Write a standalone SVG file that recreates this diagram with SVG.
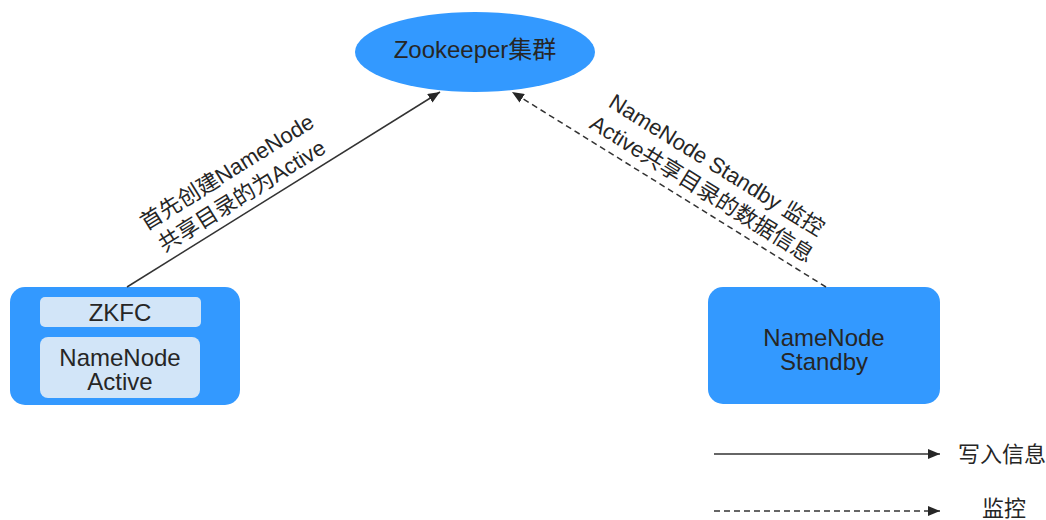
<svg xmlns="http://www.w3.org/2000/svg" width="1046" height="520" viewBox="0 0 1046 520">
<style>
.t{font-family:"Liberation Sans","Noto Sans CJK SC",sans-serif;fill:#262626}
.n{font-size:24px;text-anchor:middle}
.e{font-size:22px;text-anchor:middle}
.c{stroke:#333;stroke-width:1.5;fill:none}
.d{stroke-dasharray:6 4}
</style>
<defs>
<marker id="ah" viewBox="0 0 12 10" refX="12" refY="5" markerWidth="12" markerHeight="10" markerUnits="userSpaceOnUse" orient="auto">
<path d="M0,0 L12,5 L0,10 Z" fill="#262626"/>
</marker>
</defs>
<rect width="1046" height="520" fill="#fff"/>
<g id="zookeeper">
<ellipse cx="475" cy="52" rx="120" ry="40" fill="#3399ff"/>
<text class="t n" x="475" y="58">Zookeeper集群</text>
</g>
<g id="active">
<rect x="10" y="287" width="230" height="118" rx="15" fill="#3399ff"/>
<rect x="40" y="297" width="161" height="30" rx="5" fill="#d2e5f8"/>
<rect x="40" y="337" width="160" height="61" rx="8" fill="#d2e5f8"/>
<text class="t n" x="120" y="321">ZKFC</text>
<text class="t n" x="120" y="366">NameNode</text>
<text class="t n" x="120" y="390">Active</text>
</g>
<g id="standby">
<rect x="708" y="287" width="232" height="117" rx="15" fill="#3399ff"/>
<text class="t n" x="824" y="346">NameNode</text>
<text class="t n" x="824" y="370">Standby</text>
</g>
<g id="connectors">
<path class="c" d="M127,287 L440,92" marker-end="url(#ah)"/>
<path class="c d" d="M826,287 L512,92" marker-end="url(#ah)"/>
<path class="c" d="M714,454 L940,454" marker-end="url(#ah)"/>
<path class="c d" d="M714,511 L940,511" marker-end="url(#ah)"/>
</g>
<g id="labels">
<text class="t e" transform="translate(231,178.5) rotate(-31.8)"><tspan x="0" y="0">首先创建NameNode</tspan><tspan x="0" y="28">共享目录的为Active</tspan></text>
<text class="t e" transform="translate(712.7,171.5) rotate(31.8)"><tspan x="0" y="0">NameNode Standby 监控</tspan><tspan x="0" y="28">Active共享目录的数据信息</tspan></text>
</g>
<g id="legend">
<text class="t" x="958" y="462" font-size="22">写入信息</text>
<text class="t" x="982" y="516" font-size="22">监控</text>
</g>
</svg>
